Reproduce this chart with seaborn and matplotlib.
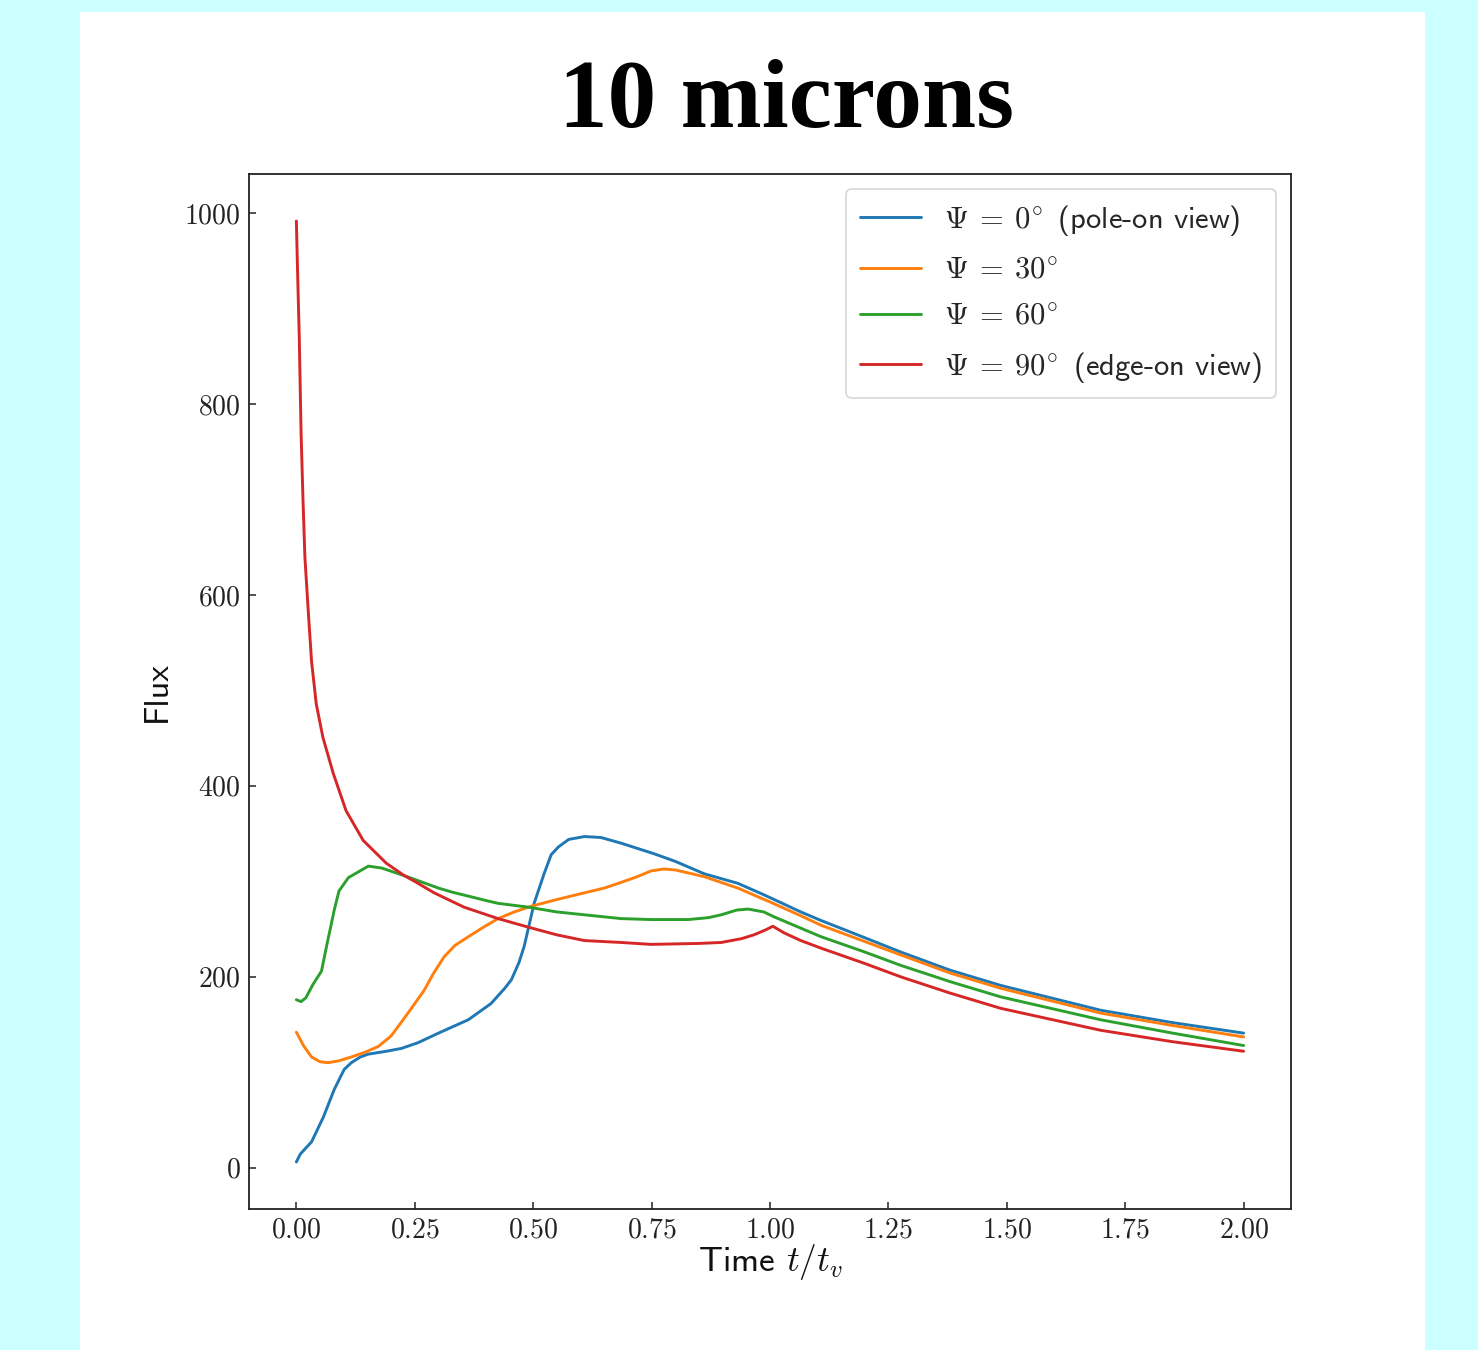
import numpy as np
import pandas as pd
import matplotlib
matplotlib.use("Agg")
import matplotlib.pyplot as plt
import matplotlib.patches as mpatches
from matplotlib.ticker import FuncFormatter
import seaborn as sns

# ---------------- data ----------------
labels = [r"$\Psi\:=\:0^{\!\circ}$ (pole-on view)",
          r"$\Psi\:=\:30^{\!\circ}$",
          r"$\Psi\:=\:60^{\!\circ}$",
          r"$\Psi\:=\:90^{\!\circ}$ (edge-on view)"]
colors = ["#1f77b4", "#ff7f0e", "#2ca02c", "#d62728"]

t_psi0 = [0.0, 0.008, 0.017, 0.032, 0.057, 0.08, 0.101, 0.116, 0.135, 0.152, 0.19,
          0.222, 0.257, 0.3, 0.363, 0.411, 0.44, 0.454, 0.47, 0.481, 0.502, 0.523,
          0.538, 0.553, 0.575, 0.608, 0.643, 0.686, 0.755, 0.8, 0.861, 0.932, 0.987,
          1.065, 1.108, 1.2, 1.276, 1.38, 1.487, 1.698, 1.85, 2.0]
f_psi0 = [6, 14, 19, 27, 53, 82, 103, 110, 116, 119, 122,
          125, 131, 141, 155, 172, 188, 197, 215, 232, 277, 308,
          328, 336, 344, 347, 346, 340, 329, 321, 308, 298, 286,
          268, 259, 241, 226, 207, 191, 165, 152, 141]

t_psi30 = [0.0, 0.015, 0.032, 0.05, 0.067, 0.09, 0.116, 0.145, 0.173, 0.2, 0.215,
           0.24, 0.27, 0.29, 0.312, 0.335, 0.363, 0.395, 0.426, 0.46, 0.496, 0.55,
           0.608, 0.65, 0.686, 0.72, 0.749, 0.776, 0.8, 0.861, 0.932, 1.002, 1.065,
           1.108, 1.2, 1.276, 1.38, 1.487, 1.698, 1.85, 2.0]
f_psi30 = [142, 128, 116, 111, 110, 112, 116, 121, 127, 138, 148,
           165, 186, 204, 221, 233, 242, 252, 261, 268, 274, 281,
           288, 293, 299, 305, 311, 313, 312, 305, 293, 278, 264,
           254, 237, 223, 204, 188, 162, 149, 137]

t_psi60 = [0.0, 0.01, 0.02, 0.035, 0.053, 0.065, 0.08, 0.09, 0.11, 0.152, 0.18,
           0.228, 0.3, 0.327, 0.4, 0.426, 0.49, 0.55, 0.608, 0.686, 0.75, 0.827,
           0.87, 0.897, 0.93, 0.954, 0.987, 1.008, 1.065, 1.108, 1.2, 1.276, 1.38,
           1.487, 1.698, 1.85, 2.0]
f_psi60 = [176, 174, 178, 192, 206, 235, 270, 290, 304, 316, 314,
           306, 293, 289, 280, 277, 273, 268, 265, 261, 260, 260,
           262, 265, 270, 271, 268, 263, 251, 242, 226, 212, 195,
           179, 155, 141, 128]

t_psi90 = [0.0, 0.003, 0.006, 0.01, 0.014, 0.018, 0.025, 0.032, 0.042, 0.056, 0.078,
           0.105, 0.141, 0.19, 0.228, 0.25, 0.291, 0.354, 0.426, 0.49, 0.55, 0.608,
           0.686, 0.749, 0.85, 0.897, 0.94, 0.966, 0.99, 1.006, 1.03, 1.065, 1.108,
           1.2, 1.276, 1.38, 1.487, 1.698, 1.85, 2.0]
f_psi90 = [992, 930, 873, 769, 700, 640, 584, 531, 486, 451, 413,
           374, 343, 319, 306, 300, 288, 273, 261, 252, 244, 238,
           236, 234, 235, 236, 240, 244, 249, 253, 246, 238, 230,
           214, 200, 183, 167, 144, 132, 122]

x_ticks = [0.0, 0.25, 0.5, 0.75, 1.0, 1.25, 1.5, 1.75, 2.0]
y_ticks = [0, 200, 400, 600, 800, 1000]

series_t = [t_psi0, t_psi30, t_psi60, t_psi90]
series_f = [f_psi0, f_psi30, f_psi60, f_psi90]

frames = []
for lab, tt, ff in zip(labels, series_t, series_f):
    frames.append(pd.DataFrame({"t": tt, "flux": ff, "series": lab}))
df = pd.concat(frames, ignore_index=True)

# ---------------- style ----------------
sns.set_theme(style="ticks")
plt.rcParams["font.family"] = ["cmss10", "DejaVu Sans"]
plt.rcParams["mathtext.fontset"] = "cm"
plt.rcParams["axes.unicode_minus"] = False

fig = plt.figure(figsize=(14.78, 13.5), dpi=100)
fig.patch.set_facecolor("#ccffff")
# white panel
fig.add_artist(mpatches.Rectangle((80 / 1478, 0), (1425 - 80) / 1478, 1 - 12 / 1350,
                                  transform=fig.transFigure, facecolor="white",
                                  edgecolor="none", zorder=-10))

ax = fig.add_axes([249 / 1478, 1 - 1209 / 1350, (1291 - 249) / 1478, (1209 - 174) / 1350])
ax.set_facecolor("white")

sns.lineplot(data=df, x="t", y="flux", hue="series", hue_order=labels,
             palette=colors, sort=False, estimator=None, linewidth=2.1,
             legend=False, ax=ax)
for ln in ax.lines:
    ln.set_solid_joinstyle("round")
    ln.set_solid_capstyle("round")

ax.set_xticks(x_ticks)
ax.set_yticks(y_ticks)
ax.xaxis.set_major_formatter(FuncFormatter(lambda v, p: r"$\mathrm{%.2f}$" % v))
ax.yaxis.set_major_formatter(FuncFormatter(lambda v, p: r"$\mathrm{%d}$" % round(v)))
ax.tick_params(axis="both", direction="in", length=5, width=1.2, colors="#333333",
               labelcolor="#222222", labelsize=20, pad=6)
for sp in ax.spines.values():
    sp.set_color("#222222")
    sp.set_linewidth(1.3)
    sp.set_visible(True)

ax.set_xlabel(r"Time $t/t_v$", fontsize=25.5, color="#111111")
ax.set_ylabel("Flux", fontsize=24.5, color="#111111")
ax.xaxis.set_label_coords(0.5, -0.032)
ax.xaxis.label.set_va("top")
ax.yaxis.set_label_coords(-0.073, 0.5)

handles = ax.lines[:4]
leg = ax.legend(handles, labels, loc="upper right", fontsize=22, frameon=True,
                fancybox=True, framealpha=0.8, edgecolor="#cccccc",
                handlelength=2.0, handletextpad=0.75, borderpad=0.45,
                labelspacing=0.62, borderaxespad=0.5)
leg.get_frame().set_linewidth(1.2)

fig.text(787 / 1478, 1 - 104 / 1350, "10 microns", ha="center", va="center",
         fontsize=70, fontweight="bold", family=["Liberation Serif", "DejaVu Serif"],
         color="black")

fig.savefig("out.png", dpi=100, facecolor=fig.get_facecolor())
